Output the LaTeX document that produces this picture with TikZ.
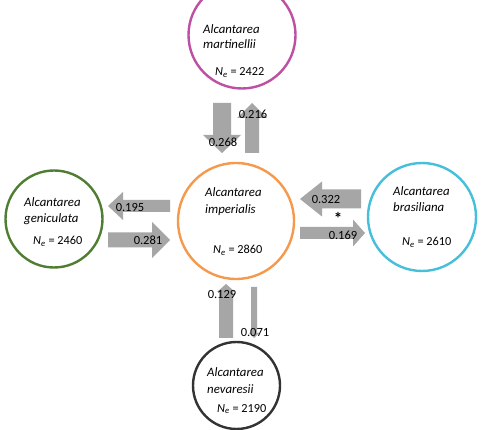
\documentclass[tikz,border=0pt]{standalone}
\usepackage{fontspec}
\setmainfont{Carlito}
\definecolor{cmag}{HTML}{BE4FA2}
\definecolor{corange}{HTML}{F59A4C}
\definecolor{cgreen}{HTML}{4F7E33}
\definecolor{ccyan}{HTML}{45BFDA}
\definecolor{cdark}{HTML}{333333}
\definecolor{carrow}{HTML}{A6A6A6}
% #1,#2 tail point; #3 rotation; #4 length; #5 shaft width; #6 head width; #7 head length
\newcommand{\blockarrow}[7]{%
  \fill[carrow,shift={(#1,#2)},rotate=#3]
    (0,-#5/2) -- (#4-#7,-#5/2) -- (#4-#7,-#6/2) -- (#4,0)
    -- (#4-#7,#6/2) -- (#4-#7,#5/2) -- (0,#5/2) -- cycle;}
\begin{document}
\begin{tikzpicture}[x=1pt,y=-1pt,
  ring/.style={circle, draw=#1, line width=2.4pt, fill=white, inner sep=0pt},
  sp/.style={anchor=base west, font=\fontsize{12.8}{15}\selectfont\itshape, inner sep=0pt},
  ne/.style={anchor=base west, font=\fontsize{12.3}{14}\selectfont, inner sep=0pt},
  val/.style={font=\fontsize{12.5}{14}\selectfont, inner sep=0pt},
  star/.style={anchor=base, font=\fontsize{17}{18}\selectfont\bfseries, inner sep=0pt}]
\clip (0,0) rectangle (490,430);
\fill[white] (0,0) rectangle (490,430);

% circles
\node[ring=cmag, minimum size=107pt] (mart) at (242,35) {};
\node[ring=corange, minimum size=116pt] (imp) at (236,221) {};
\node[ring=cgreen, minimum size=97pt] (gen) at (54,219) {};
\node[ring=ccyan, minimum size=108pt] (bra) at (422,217) {};
\node[ring=cdark, minimum size=87pt] (nev) at (236.5,385.5) {};

% species texts
\node[sp] (mart1) at (203,34) {Alcantarea};
\node[sp] (mart2) at (203,49) {martinellii};
\node[ne] (mart3) at (215,76) {\textit{N}\textsubscript{\itshape e} = 2422};

\node[sp] (imp1) at (205,197) {Alcantarea};
\node[sp] (imp2) at (205,214) {imperialis};
\node[ne] (imp3) at (213,254) {\textit{N}\textsubscript{\itshape e} = 2860};

\node[sp] (gen1) at (24,207) {Alcantarea};
\node[sp] (gen2) at (24,223) {geniculata};
\node[ne] (gen3) at (33,245) {\textit{N}\textsubscript{\itshape e} = 2460};

\node[sp] (bra1) at (393,196) {Alcantarea};
\node[sp] (bra2) at (393,212) {brasiliana};
\node[ne] (bra3) at (402,246) {\textit{N}\textsubscript{\itshape e} = 2610};

\node[sp] (nev1) at (207,377) {Alcantarea};
\node[sp] (nev2) at (207,393) {nevaresii};
\node[ne] (nev3) at (217,412) {\textit{N}\textsubscript{\itshape e} = 2190};

% block arrows
\blockarrow{222}{103}{270}{50}{18}{38}{18}
\blockarrow{252}{153}{90}{50}{14}{30}{15}
\blockarrow{170}{206}{180}{62}{12}{28}{15}
\blockarrow{108}{240}{0}{62}{15}{36}{18}
\blockarrow{361}{199}{180}{61}{19}{35}{22}
\blockarrow{300}{233}{0}{65}{12}{27}{12}
\blockarrow{226}{338}{90}{54}{14}{18}{8}
\blockarrow{254}{287}{270}{51}{6}{10}{5}

% values
\node[val] (v216) at (253,114) {0.216};
\node[val] (v268) at (223,142) {0.268};
\node[val] (v195) at (130,207) {0.195};
\node[val] (v281) at (148,240) {0.281};
\node[val] (v322) at (326,199) {0.322};
\node[val] (v169) at (343,235) {0.169};
\node[val] (v129) at (222,294) {0.129};
\node[val] (v071) at (255,332) {0.071};
\node[star] (ast) at (338,225) {*};
\end{tikzpicture}
\end{document}
